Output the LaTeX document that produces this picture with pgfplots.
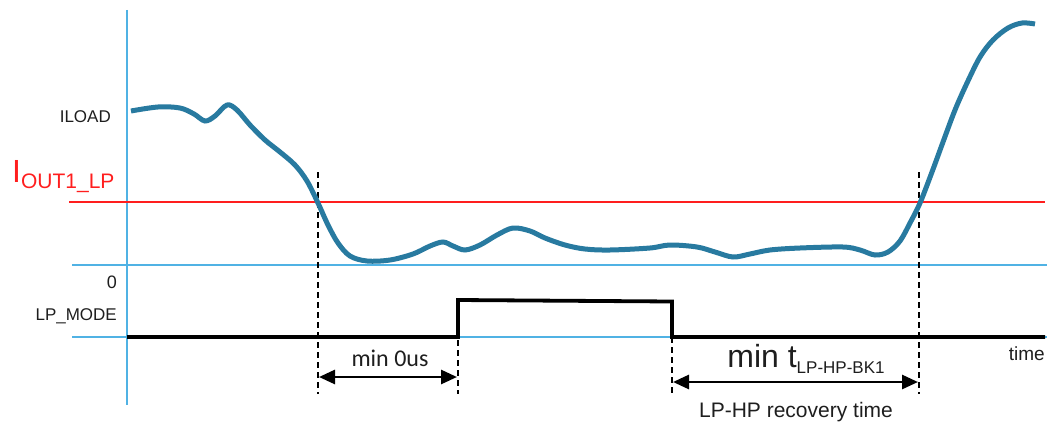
\documentclass[border=0pt]{standalone}
\usepackage{pgfplots}
\pgfplotsset{compat=1.18}
\usepackage{fontspec}
\setmainfont{Liberation Sans}
\newfontfamily\carl{Carlito}
\usetikzlibrary{arrows.meta}
\definecolor{curveblue}{RGB}{40,122,160}
\definecolor{axblue}{RGB}{80,178,228}
\definecolor{sigred}{RGB}{255,30,30}
\definecolor{txt}{RGB}{30,30,30}
\newcommand{\fs}[1]{\fontsize{#1bp}{#1bp}\selectfont}
\begin{document}
\begin{tikzpicture}
\begin{axis}[
  width=1049bp, height=423bp, scale only axis,
  xmin=0, xmax=1049, ymin=0, ymax=423, y dir=reverse,
  hide axis, clip=false,
]
\path (rel axis cs:0,0) rectangle (rel axis cs:1,1);
% light blue axes
\addplot[axblue, line width=2.4bp] coordinates {(127,10) (127,405)};
\addplot[axblue, line width=2.4bp] coordinates {(72,265) (1047,265)};
\addplot[axblue, line width=2.4bp] coordinates {(72,337) (1047,337)};
% red threshold
\addplot[sigred, line width=2.4bp] coordinates {(69,202) (1045,202)};
% LP_MODE signal
\addplot[black, line width=3.8bp, line join=miter] coordinates {(127,337) (458,337) (458,300) (672,301.5) (672,337) (1045,337)};
% dashed markers
\addplot[black, line width=2.3bp, dash pattern=on 6bp off 4bp] coordinates {(318,172) (318,394)};
\addplot[black, line width=2.3bp, dash pattern=on 6bp off 4bp] coordinates {(458,300) (458,394)};
\addplot[black, line width=2.3bp, dash pattern=on 6bp off 4bp] coordinates {(672,337) (672,394)};
\addplot[black, line width=2.3bp, dash pattern=on 6bp off 4bp] coordinates {(919,172) (919,394)};
% arrows
\addplot[black, line width=2.8bp, {Triangle[length=16bp,width=14bp]}-{Triangle[length=16bp,width=14bp]}] coordinates {(319,377) (457,377)};
\addplot[black, line width=2.8bp, {Triangle[length=16bp,width=14bp]}-{Triangle[length=16bp,width=14bp]}] coordinates {(673,382) (918,382)};
% load current
\addplot[curveblue, line width=5bp, smooth, tension=0.55] coordinates {
(131,111)(158,107)(180,108)(194,114)(205,121)(215,116)(227,105)(237,110)(250,125)(265,140)(280,152)(295,165)(307,181)(318,203)(328,225)(338,243)(350,256)(367,261)(390,260)(413,254)(430,246)(443,242)(453,246)(465,250)(480,245)(497,235)(513,228)(530,231)(545,238)(565,245)(585,249)(610,250)(650,248)(670,245)(697,247)(715,252)(733,257)(750,254)(770,250)(800,248)(843,247)(860,250)(875,255)(888,252)(900,241)(910,223)(920,203)(932,172)(943,142)(955,110)(967,83)(980,57)(993,40)(1008,28)(1022,23)(1035,24)
};
% labels
\node[anchor=base east, inner sep=0, txt] at (axis cs:111,122) {\fs{17}ILOAD};
\node[anchor=base west, inner sep=0, sigred] at (axis cs:12,182) {\fs{32}I\raisebox{-6bp}{\fs{21}OUT1\_LP}};
\node[anchor=base east, inner sep=0, txt] at (axis cs:117,288) {\fs{18}0};
\node[anchor=base east, inner sep=0, txt] at (axis cs:117,320) {\fs{17}LP\_MODE};
\node[anchor=base, inner sep=0, txt] at (axis cs:390,366) {\carl\fs{24}min 0us};
\node[anchor=base, inner sep=0, txt] at (axis cs:806,367) {\fs{32}min t\raisebox{-6bp}{\fs{17}LP-HP-BK1}};
\node[anchor=base, inner sep=0, txt] at (axis cs:796,417) {\fs{21}LP-HP recovery time};
\node[anchor=base east, inner sep=0, txt] at (axis cs:1045,360) {\fs{19}time};
\end{axis}
\end{tikzpicture}
\end{document}
